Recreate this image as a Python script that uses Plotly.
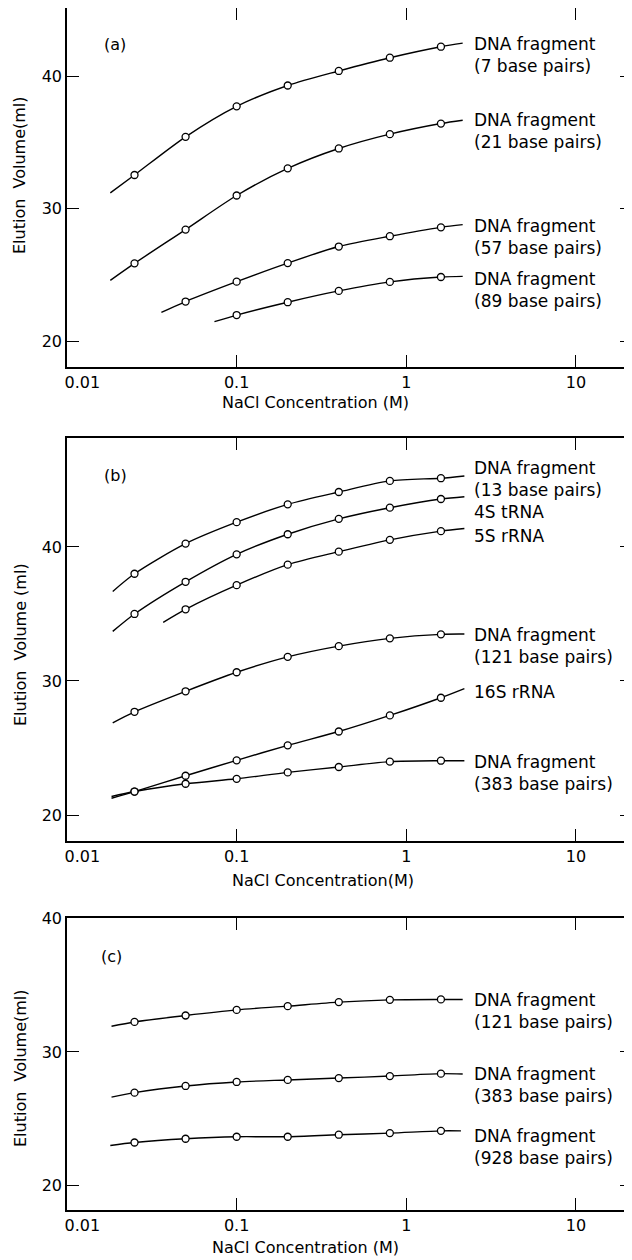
import math
import plotly.graph_objects as go

# ---------------- data ----------------
nacl_points = [0.025, 0.05, 0.1, 0.2, 0.4, 0.8, 1.6]

# Panel (a)
a_7bp = [32.55, 35.43, 37.73, 39.3, 40.4, 41.4, 42.23]
a_21bp = [25.88, 28.43, 31.0, 33.05, 34.55, 35.63, 36.43]
a_57bp = [23.0, 24.5, 25.9, 27.15, 27.93, 28.6]          # from 0.05
a_89bp = [21.98, 22.95, 23.8, 24.48, 24.85]              # from 0.1

# Panel (b)
b_13bp = [38.0, 40.25, 41.85, 43.18, 44.1, 44.93, 45.13]
b_4s = [35.0, 37.4, 39.45, 40.95, 42.1, 42.93, 43.58]
b_5s = [35.35, 37.15, 38.68, 39.65, 40.53, 41.18]        # from 0.05
b_121bp = [27.7, 29.23, 30.65, 31.8, 32.6, 33.18, 33.48]
b_16s = [21.75, 22.93, 24.08, 25.2, 26.23, 27.43, 28.75]
b_383bp = [21.75, 22.33, 22.7, 23.18, 23.58, 23.98, 24.05]

# Panel (c)
c_121bp = [32.24, 32.72, 33.14, 33.42, 33.72, 33.89, 33.92]
c_383bp = [26.96, 27.46, 27.76, 27.91, 28.05, 28.2, 28.38]
c_928bp = [23.24, 23.52, 23.67, 23.67, 23.82, 23.94, 24.11]

# fitted-curve extensions beyond the measured points: (x_start, y_start, x_end, y_end)
a_ext = {"7": (0.018, 31.2, 2.15, 42.5), "21": (0.018, 24.6, 2.15, 36.68),
         "57": (0.036, 22.18, 2.15, 28.8), "89": (0.074, 21.48, 2.15, 24.9)}
b_ext = {"13": (0.0186, 36.68, 2.2, 45.3), "4s": (0.0186, 33.7, 2.2, 43.75),
         "5s": (0.0369, 34.38, 2.2, 41.38), "121": (0.0186, 26.88, 2.2, 33.5),
         "16s": (0.0183, 21.25, 2.2, 29.43), "383": (0.0183, 21.38, 2.2, 24.05)}
c_ext = {"121": (0.0183, 31.92, 2.15, 33.92), "383": (0.0183, 26.63, 2.15, 28.35),
         "928": (0.018, 23.02, 2.1, 24.11)}

# labels: (text, y centre)
a_labels = [("DNA fragment<br>(7 base pairs)", 41.6), ("DNA fragment<br>(21 base pairs)", 35.85),
            ("DNA fragment<br>(57 base pairs)", 27.9), ("DNA fragment<br>(89 base pairs)", 23.85)]
b_labels = [("DNA fragment<br>(13 base pairs)", 45.1), ("4S tRNA", 42.63), ("5S rRNA", 40.83),
            ("DNA fragment<br>(121 base pairs)", 32.6), ("16S rRNA", 29.2),
            ("DNA fragment<br>(383 base pairs)", 23.15)]
c_labels = [("DNA fragment<br>(121 base pairs)", 33.04), ("DNA fragment<br>(383 base pairs)", 27.56),
            ("DNA fragment<br>(928 base pairs)", 22.9)]
label_x = 2.44

x_tickvals = [0.01, 0.1, 1, 10]
x_ticktext = ["0.01", "0.1", "1", "10"]
y_tickvals = [20, 30, 40]

# ---------------- figure ----------------
OFF = 8                      # page body margin of the html page
W, H = 632 - OFF, 1260 - OFF
FONT = "DejaVu Sans"
fig = go.Figure()


def add_series(xref, yref, xs, ys, ext):
    x0, y0, x1, y1 = ext
    fig.add_trace(go.Scatter(x=[x0] + xs + [x1], y=[y0] + ys + [y1], mode="lines",
                             line=dict(color="black", width=1.4, shape="spline", smoothing=0.8),
                             xaxis=xref, yaxis=yref, showlegend=False, hoverinfo="skip"))
    fig.add_trace(go.Scatter(x=xs, y=ys, mode="markers",
                             marker=dict(symbol="circle", size=7, color="white",
                                         line=dict(color="black", width=1.3)),
                             xaxis=xref, yaxis=yref, showlegend=False))


# panel a
add_series("x", "y", nacl_points, a_7bp, a_ext["7"])
add_series("x", "y", nacl_points, a_21bp, a_ext["21"])
add_series("x", "y", nacl_points[1:], a_57bp, a_ext["57"])
add_series("x", "y", nacl_points[2:], a_89bp, a_ext["89"])
# panel b
add_series("x2", "y2", nacl_points, b_13bp, b_ext["13"])
add_series("x2", "y2", nacl_points, b_4s, b_ext["4s"])
add_series("x2", "y2", nacl_points[1:], b_5s, b_ext["5s"])
add_series("x2", "y2", nacl_points, b_121bp, b_ext["121"])
add_series("x2", "y2", nacl_points, b_16s, b_ext["16s"])
add_series("x2", "y2", nacl_points, b_383bp, b_ext["383"])
# panel c
add_series("x3", "y3", nacl_points, c_121bp, c_ext["121"])
add_series("x3", "y3", nacl_points, c_383bp, c_ext["383"])
add_series("x3", "y3", nacl_points, c_928bp, c_ext["928"])


def px_x(p):
    return (p - OFF) / W


def px_y(p):
    return 1 - (p - OFF) / H


panels = [  # (top px, bottom px, yrange)
    (4 + 1, 367, [18.06, 45.15]),
    (438, 841, [18.06, 48.13]),
    (918, 1210, [18.2, 40.0]),
]

# first tick label sits just right of the axis in the original
ticktext_shifted = ["\u00a0" * 6 + x_ticktext[0]] + x_ticktext[1:]

xaxis_common = dict(type="log", range=[-2, math.log10(21.4)], tickvals=x_tickvals,
                    ticktext=ticktext_shifted,
                    ticks="inside", ticklen=12, tickwidth=1.3, tickcolor="black",
                    showline=True, linecolor="black", linewidth=1.5, mirror="ticks",
                    showgrid=False, zeroline=False, automargin=False,
                    tickfont=dict(family=FONT, size=16, color="black"), domain=[px_x(67), 1])
yaxis_common = dict(tickvals=y_tickvals, ticks="inside", ticklen=12, tickwidth=1.3, tickcolor="black",
                    showline=True, linecolor="black", linewidth=1.5, mirror="ticks",
                    showgrid=False, zeroline=False, automargin=False,
                    tickfont=dict(family=FONT, size=16, color="black"))

layout = dict(width=W, height=H, autosize=False,
              margin=dict(l=0, r=0, t=0, b=0, pad=0, autoexpand=False),
              paper_bgcolor="white", plot_bgcolor="white", showlegend=False,
              font=dict(family=FONT, size=16, color="black"))
for i, (top, bot, yr) in enumerate(panels):
    sx = "" if i == 0 else str(i + 1)
    layout["xaxis" + sx] = dict(xaxis_common, anchor="y" + sx)
    layout["yaxis" + sx] = dict(yaxis_common, anchor="x" + sx, range=yr,
                                domain=[px_y(bot), min(1, px_y(top))])
fig.update_layout(**layout)

annotations = []
for sx, labels in (("", a_labels), ("2", b_labels), ("3", c_labels)):
    for text, yc in labels:
        annotations.append(dict(x=math.log10(label_x), y=yc, xref="x" + sx, yref="y" + sx,
                                text=text, showarrow=False, xanchor="left", yanchor="middle",
                                align="left", font=dict(family=FONT, size=17, color="black")))


def paper_text(text, xp, yp, angle=0):
    return dict(x=px_x(xp), y=px_y(yp), xref="paper", yref="paper", text=text,
                xanchor="center", yanchor="middle", textangle=angle, showarrow=False,
                font=dict(family=FONT, size=16, color="black"))


# panel letters
for text, xp, yp in (("(a)", 115, 44), ("(b)", 115, 475), ("(c)", 111, 956)):
    annotations.append(paper_text(text, xp, yp))
# y-axis titles
for text, yp in (("Elution\u00a0 Volume(ml)", 175), ("Elution\u00a0 Volume (ml)", 645),
                 ("Elution\u00a0 Volume(ml)", 1068)):
    annotations.append(paper_text(text, 20, yp, angle=-90))
# x-axis titles
for text, xp, yp in (("NaCl Concentration (M)", 315, 402), ("NaCl Concentration(M)", 323, 880),
                     ("NaCl Concentration (M)", 305, 1247)):
    annotations.append(paper_text(text, xp, yp))

fig.update_layout(annotations=annotations)
fig.write_html("out.html")
